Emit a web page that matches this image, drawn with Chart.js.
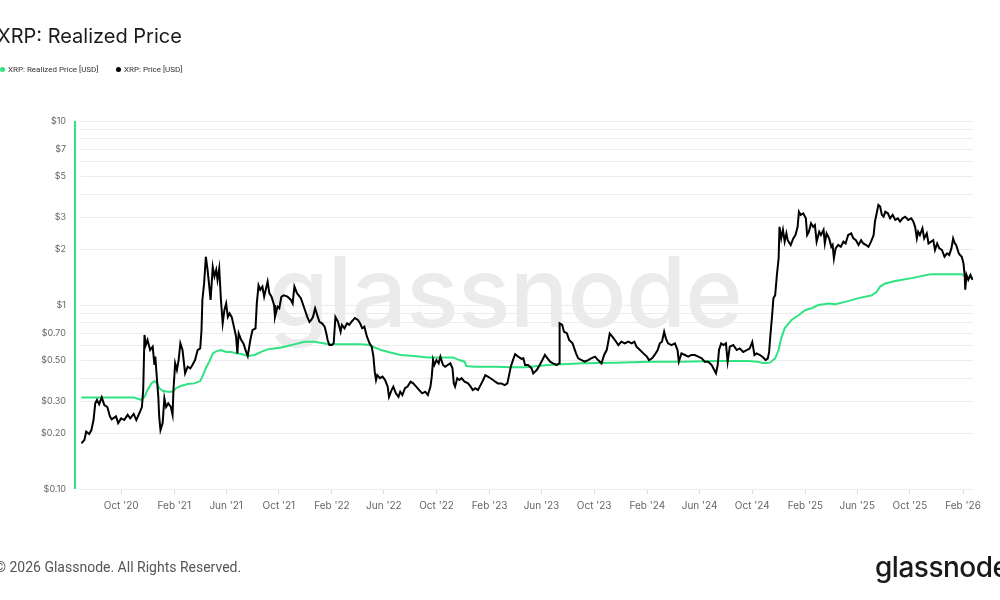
<!DOCTYPE html>
<html>
<head>
<meta charset="utf-8">
<script src="https://cdn.jsdelivr.net/npm/chart.js@4.4.1/dist/chart.umd.min.js"></script>
<style>
html,body{margin:0;padding:0;background:#fff;width:1000px;height:600px;overflow:hidden;font-family:Inter,"Open Sans",sans-serif}
#wrap{position:relative;width:1000px;height:600px}
#wm{position:absolute;left:268px;top:232px;font-size:98px;font-weight:500;color:#ebebeb;letter-spacing:-1px;z-index:0;white-space:nowrap}
#c{position:absolute;left:0;top:0;z-index:1}
#title{position:absolute;left:-3px;top:24px;font-size:20px;color:#1c1c1c;white-space:nowrap;z-index:2}
.lg{position:absolute;top:65px;font-family:Roboto,sans-serif;font-size:8px;color:#333;white-space:nowrap;z-index:2}
.dot{display:inline-block;width:5px;height:5px;border-radius:50%;margin-right:3px;vertical-align:0px}
#foot{position:absolute;left:-5px;top:559px;font-family:Roboto,sans-serif;font-size:14px;color:#555;white-space:nowrap;z-index:2}
#logo{position:absolute;left:875px;top:550px;font-size:28px;font-weight:500;color:#1a1a1a;letter-spacing:-0.5px;white-space:nowrap;z-index:2}
</style>
</head>
<body>
<div id="wrap">
  <div id="wm">glassnode</div>
  <canvas id="c" width="1000" height="600"></canvas>
  <div id="title">XRP: Realized Price</div>
  <div class="lg" style="left:0px"><span class="dot" style="background:#2fe383"></span>XRP: Realized Price [USD]</div>
  <div class="lg" style="left:116px"><span class="dot" style="background:#000"></span>XRP: Price [USD]</div>
  <div id="foot">© 2026 Glassnode. All Rights Reserved.</div>
  <div id="logo">glassnode</div>
</div>
<script>
const priceDates = ['2020-07-01','2020-07-08','2020-07-12','2020-07-19','2020-07-24','2020-07-29','2020-08-02','2020-08-06','2020-08-11','2020-08-17','2020-08-23','2020-08-30','2020-09-05','2020-09-09','2020-09-19','2020-09-24','2020-10-01','2020-10-08','2020-10-16','2020-10-22','2020-10-30','2020-11-05','2020-11-12','2020-11-18','2020-11-21','2020-11-24','2020-11-27','2020-12-01','2020-12-07','2020-12-13','2020-12-17','2020-12-19','2020-12-23','2020-12-26','2020-12-28','2020-12-31',
'2021-01-05','2021-01-09','2021-01-13','2021-01-18','2021-01-24','2021-01-28','2021-01-30','2021-02-03','2021-02-07','2021-02-11','2021-02-15','2021-02-20','2021-02-26','2021-03-04','2021-03-10','2021-03-15','2021-03-21','2021-03-27','2021-04-02','2021-04-05','2021-04-07','2021-04-11','2021-04-15','2021-04-19','2021-04-23','2021-04-26','2021-05-01','2021-05-05','2021-05-09','2021-05-12','2021-05-16','2021-05-20','2021-05-24','2021-05-28','2021-06-01','2021-06-05','2021-06-09','2021-06-14','2021-06-19','2021-06-24','2021-06-27','2021-06-30','2021-07-06','2021-07-11','2021-07-16','2021-07-21','2021-07-27','2021-08-01','2021-08-08','2021-08-11','2021-08-15','2021-08-19','2021-08-24','2021-08-28','2021-09-05','2021-09-09','2021-09-14','2021-09-20','2021-09-22','2021-09-28','2021-10-02','2021-10-07','2021-10-13','2021-10-21','2021-10-29','2021-11-02','2021-11-06','2021-11-12','2021-11-21','2021-11-29','2021-12-06','2021-12-11','2021-12-15','2021-12-19','2021-12-24','2021-12-29',
'2022-01-03','2022-01-09','2022-01-15','2022-01-19','2022-01-22','2022-01-26','2022-02-01','2022-02-05','2022-02-09','2022-02-15','2022-02-21','2022-02-24','2022-03-02','2022-03-08','2022-03-13','2022-03-18','2022-03-26','2022-04-02','2022-04-07','2022-04-12','2022-04-17','2022-04-23','2022-04-29','2022-05-04','2022-05-08','2022-05-11','2022-05-14','2022-05-17','2022-05-23','2022-05-29','2022-06-04','2022-06-10','2022-06-13','2022-06-19','2022-06-23','2022-06-29','2022-07-05','2022-07-09','2022-07-14','2022-07-20','2022-07-26','2022-08-02','2022-08-08','2022-08-15','2022-08-22','2022-08-29','2022-09-05','2022-09-11','2022-09-17','2022-09-20','2022-09-23','2022-09-26','2022-10-01','2022-10-06','2022-10-10','2022-10-16','2022-10-21','2022-10-27','2022-11-02','2022-11-07','2022-11-10','2022-11-13','2022-11-18','2022-11-23','2022-11-28','2022-12-05','2022-12-13','2022-12-19','2022-12-24','2022-12-30',
'2023-01-05','2023-01-11','2023-01-17','2023-01-22','2023-01-28','2023-02-03','2023-02-09','2023-02-14','2023-02-20','2023-02-28','2023-03-08','2023-03-14','2023-03-18','2023-03-22','2023-03-27','2023-04-01','2023-04-08','2023-04-16','2023-04-20','2023-04-24','2023-05-01','2023-05-09','2023-05-13','2023-05-21','2023-05-28','2023-06-03','2023-06-09','2023-06-15','2023-06-21','2023-06-28','2023-07-06','2023-07-12','2023-07-13','2023-07-19','2023-07-23','2023-07-30','2023-08-04','2023-08-12','2023-08-20','2023-08-25','2023-09-02','2023-09-09','2023-09-17','2023-09-24','2023-10-03','2023-10-10','2023-10-18','2023-10-24','2023-10-30','2023-11-02','2023-11-06','2023-11-12','2023-11-18','2023-11-26','2023-12-03','2023-12-11','2023-12-19','2023-12-27',
'2024-01-02','2024-01-07','2024-01-15','2024-01-23','2024-01-31','2024-02-05','2024-02-12','2024-02-18','2024-02-25','2024-03-01','2024-03-06','2024-03-11','2024-03-15','2024-03-20','2024-03-28','2024-04-05','2024-04-11','2024-04-14','2024-04-20','2024-04-28','2024-05-06','2024-05-13','2024-05-21','2024-05-29','2024-06-06','2024-06-13','2024-06-21','2024-06-29','2024-07-05','2024-07-09','2024-07-13','2024-07-16','2024-07-21','2024-07-26','2024-08-01','2024-08-05','2024-08-10','2024-08-18','2024-08-26','2024-09-02','2024-09-10','2024-09-18','2024-09-25','2024-10-01','2024-10-06','2024-10-11','2024-10-19','2024-10-27','2024-11-01','2024-11-06','2024-11-09','2024-11-12','2024-11-16','2024-11-19','2024-11-23','2024-11-27','2024-12-01','2024-12-03','2024-12-07','2024-12-11','2024-12-15','2024-12-19','2024-12-22','2024-12-29',
'2025-01-04','2025-01-09','2025-01-14','2025-01-17','2025-01-21','2025-01-27','2025-02-02','2025-02-05','2025-02-09','2025-02-14','2025-02-19','2025-02-23','2025-02-27','2025-03-05','2025-03-09','2025-03-15','2025-03-18','2025-03-22','2025-03-28','2025-04-02','2025-04-05','2025-04-08','2025-04-12','2025-04-18','2025-04-24','2025-04-30','2025-05-05','2025-05-11','2025-05-18','2025-05-23','2025-05-29','2025-06-04','2025-06-10','2025-06-15','2025-06-21','2025-06-27','2025-07-03','2025-07-09','2025-07-12','2025-07-16','2025-07-20','2025-07-24','2025-07-28','2025-08-01','2025-08-05','2025-08-11','2025-08-16','2025-08-22','2025-08-28','2025-09-03','2025-09-08','2025-09-14','2025-09-20','2025-09-27','2025-10-04','2025-10-09','2025-10-13','2025-10-17','2025-10-20','2025-10-24','2025-10-30','2025-11-03','2025-11-09','2025-11-13','2025-11-19','2025-11-24','2025-11-28','2025-12-03','2025-12-08','2025-12-14','2025-12-20','2025-12-26','2025-12-31',
'2026-01-05','2026-01-09','2026-01-13','2026-01-16','2026-01-22','2026-01-25','2026-01-29','2026-02-02','2026-02-05','2026-02-06','2026-02-09','2026-02-13','2026-02-18','2026-02-23'];
const priceValues = [0.177,0.185,0.205,0.199,0.209,0.237,0.292,0.305,0.289,0.315,0.286,0.279,0.248,0.239,0.248,0.228,0.242,0.237,0.253,0.242,0.256,0.237,0.258,0.279,0.345,0.687,0.606,0.645,0.569,0.594,0.472,0.524,0.391,0.317,0.248,0.209,
0.228,0.311,0.279,0.292,0.279,0.253,0.345,0.482,0.443,0.502,0.619,0.569,0.425,0.462,0.453,0.472,0.502,0.569,0.581,0.731,1.065,1.31,1.83,1.55,1.26,1.065,1.61,1.43,1.55,1.37,1.58,1.065,0.795,0.94,1.02,0.86,0.90,0.86,0.762,0.673,0.546,0.702,0.645,0.619,0.569,0.528,0.645,0.731,0.747,1.02,1.28,1.21,1.26,1.11,1.34,1.16,1.11,1.0,0.86,0.98,0.96,1.11,1.13,1.11,1.065,1.02,1.26,1.16,1.09,0.96,0.86,0.81,0.83,0.86,0.96,0.88,
0.81,0.795,0.762,0.70,0.645,0.606,0.606,0.619,0.86,0.81,0.716,0.78,0.747,0.795,0.78,0.81,0.85,0.83,0.795,0.747,0.762,0.673,0.619,0.594,0.524,0.434,0.391,0.416,0.40,0.408,0.391,0.36,0.317,0.345,0.36,0.331,0.317,0.338,0.324,0.353,0.36,0.383,0.375,0.36,0.345,0.331,0.338,0.324,0.36,0.408,0.502,0.472,0.502,0.482,0.524,0.472,0.462,0.472,0.482,0.453,0.375,0.36,0.40,0.391,0.40,0.383,0.375,0.36,0.345,0.353,
0.345,0.367,0.391,0.416,0.408,0.40,0.391,0.383,0.375,0.375,0.367,0.375,0.416,0.462,0.502,0.54,0.524,0.51,0.513,0.472,0.472,0.453,0.425,0.443,0.472,0.502,0.535,0.513,0.492,0.482,0.472,0.482,0.795,0.78,0.716,0.70,0.645,0.619,0.546,0.513,0.502,0.492,0.502,0.513,0.524,0.502,0.482,0.535,0.569,0.619,0.70,0.673,0.645,0.606,0.632,0.619,0.632,0.619,
0.632,0.594,0.569,0.546,0.524,0.502,0.513,0.535,0.569,0.619,0.632,0.716,0.659,0.619,0.606,0.619,0.569,0.492,0.546,0.535,0.524,0.535,0.535,0.524,0.513,0.492,0.492,0.472,0.443,0.425,0.472,0.569,0.619,0.606,0.619,0.492,0.594,0.606,0.569,0.581,0.556,0.569,0.58,0.63,0.535,0.546,0.535,0.517,0.502,0.513,0.556,0.687,0.88,1.09,1.13,1.455,1.79,2.66,2.30,2.56,2.21,2.45,2.25,2.12,
2.30,2.40,2.66,3.21,3.09,3.15,2.96,2.40,2.50,2.78,2.66,2.72,2.21,2.50,2.40,2.56,2.16,2.45,2.30,2.07,2.12,1.79,2.03,2.12,2.07,2.21,2.16,2.40,2.45,2.30,2.25,2.12,2.25,2.16,2.12,2.07,2.21,2.40,2.84,3.15,3.50,3.43,3.09,3.02,3.21,3.15,2.96,3.09,2.90,2.96,2.84,2.96,3.02,2.90,2.96,2.84,2.66,2.30,2.50,2.40,2.61,2.30,2.45,2.16,2.21,2.25,1.99,2.16,2.03,1.99,1.83,1.91,1.87,
2.03,2.30,2.16,2.12,1.91,1.87,1.83,1.68,1.43,1.21,1.455,1.37,1.455,1.37];

const realizedDates = ['2020-07-01','2020-10-31','2020-11-16','2020-11-24','2020-12-01','2020-12-10','2020-12-17','2020-12-23','2020-12-28','2021-01-05','2021-01-17','2021-01-28','2021-02-05','2021-02-16','2021-03-04','2021-03-19','2021-04-02','2021-04-07','2021-04-15','2021-04-23','2021-05-01','2021-05-09','2021-05-20','2021-06-01','2021-06-13','2021-06-24','2021-07-06','2021-07-21','2021-08-06','2021-08-21','2021-09-05','2021-09-20','2021-10-06','2021-10-21','2021-11-06','2021-11-29','2021-12-22','2022-01-22','2022-03-02','2022-04-10','2022-04-29','2022-05-10','2022-05-26','2022-06-16','2022-07-10','2022-08-10','2022-09-11','2022-10-12','2022-11-08','2022-11-23','2022-12-05','2022-12-09','2022-12-28','2023-02-13','2023-03-24','2023-04-24','2023-06-17','2023-09-02','2023-11-18','2024-02-03','2024-04-20','2024-07-07','2024-09-21','2024-10-14','2024-10-27','2024-11-11','2024-11-23','2024-12-01','2024-12-07','2024-12-15','2024-12-31','2025-01-16','2025-02-01','2025-02-16','2025-03-03','2025-03-27','2025-04-11','2025-05-04','2025-06-04','2025-07-05','2025-07-16','2025-07-24','2025-08-05','2025-08-28','2025-10-05','2025-11-17','2025-12-21','2026-01-29','2026-02-05','2026-02-23'];
const realizedValues = [0.314,0.314,0.305,0.317,0.345,0.375,0.386,0.375,0.353,0.342,0.338,0.338,0.353,0.363,0.372,0.375,0.386,0.408,0.453,0.492,0.546,0.56,0.569,0.556,0.556,0.546,0.542,0.528,0.535,0.556,0.574,0.581,0.588,0.598,0.611,0.632,0.632,0.614,0.611,0.611,0.606,0.589,0.569,0.552,0.535,0.528,0.519,0.519,0.519,0.502,0.492,0.466,0.462,0.462,0.459,0.459,0.472,0.482,0.486,0.492,0.492,0.496,0.496,0.492,0.482,0.486,0.513,0.569,0.659,0.747,0.83,0.88,0.94,0.96,1.0,1.02,1.01,1.04,1.09,1.13,1.18,1.26,1.31,1.35,1.40,1.47,1.47,1.47,1.43,1.40];

const xTickDates = ['2020-10-01','2021-02-01','2021-06-01','2021-10-01','2022-02-01','2022-06-01','2022-10-01','2023-02-01','2023-06-01','2023-10-01','2024-02-01','2024-06-01','2024-10-01','2025-02-01','2025-06-01','2025-10-01','2026-02-01'];
const xTickLabels = ["Oct '20","Feb '21","Jun '21","Oct '21","Feb '22","Jun '22","Oct '22","Feb '23","Jun '23","Oct '23","Feb '24","Jun '24","Oct '24","Feb '25","Jun '25","Oct '25","Feb '26"];
const xRange = ['2020-06-30','2026-02-24'];

const yGridValues = [0.1,0.2,0.3,0.4,0.5,0.6,0.7,0.8,0.9,1,2,3,4,5,6,7,8,9,10];
const yLabelValues = [0.1,0.2,0.3,0.5,0.7,1,2,3,5,7,10];
const yLabelTexts = ['$0.10','$0.20','$0.30','$0.50','$0.70','$1','$2','$3','$5','$7','$10'];

const GREEN = '#2fe383';
const toPts = (ds, vs) => ds.map((d, i) => ({x: Date.parse(d), y: vs[i]}));

const leftLine = {
  id: 'leftLine',
  afterDraw(chart) {
    const a = chart.chartArea, ctx = chart.ctx;
    ctx.save();
    ctx.strokeStyle = GREEN;
    ctx.lineWidth = 2;
    ctx.beginPath();
    ctx.moveTo(a.left - 6, a.top);
    ctx.lineTo(a.left - 6, a.bottom);
    ctx.stroke();
    ctx.restore();
  }
};

new Chart(document.getElementById('c'), {
  type: 'line',
  data: {
    datasets: [
      {label: 'XRP: Price [USD]', data: toPts(priceDates, priceValues), borderColor: '#000', borderWidth: 2, pointRadius: 0, tension: 0, order: 0},
      {label: 'XRP: Realized Price [USD]', data: toPts(realizedDates, realizedValues), borderColor: GREEN, borderWidth: 2, pointRadius: 0, tension: 0, order: 1}
    ]
  },
  options: {
    responsive: false,
    animation: false,
    layout: {padding: {left: 0, right: 27, top: 121, bottom: 71}},
    plugins: {legend: {display: false}, tooltip: {enabled: false}, title: {display: false}},
    scales: {
      x: {
        type: 'linear',
        min: Date.parse(xRange[0]),
        max: Date.parse(xRange[1]),
        afterBuildTicks: s => { s.ticks = xTickDates.map(d => ({value: Date.parse(d)})); },
        afterFit: s => { s.height = 40; },
        grid: {drawOnChartArea: false, drawTicks: true, tickLength: 5, color: '#dedede'},
        border: {display: false},
        ticks: {autoSkip: false, maxRotation: 0, padding: 6, color: '#666', font: {family: 'Inter, "Open Sans", sans-serif', size: 10},
          callback: (v, i) => xTickLabels[i]}
      },
      y: {
        type: 'logarithmic',
        min: 0.1,
        max: 10,
        afterBuildTicks: s => { s.ticks = yGridValues.map(v => ({value: v})); },
        afterFit: s => { s.width = 81; },
        grid: {color: '#ececec', drawTicks: false},
        border: {display: false},
        ticks: {autoSkip: false, padding: 15, color: '#666', font: {family: 'Inter, "Open Sans", sans-serif', size: 9},
          callback: (v) => { const k = yLabelValues.indexOf(v); return k >= 0 ? yLabelTexts[k] : ''; }}
      }
    }
  },
  plugins: [leftLine]
});
</script>
</body>
</html>
